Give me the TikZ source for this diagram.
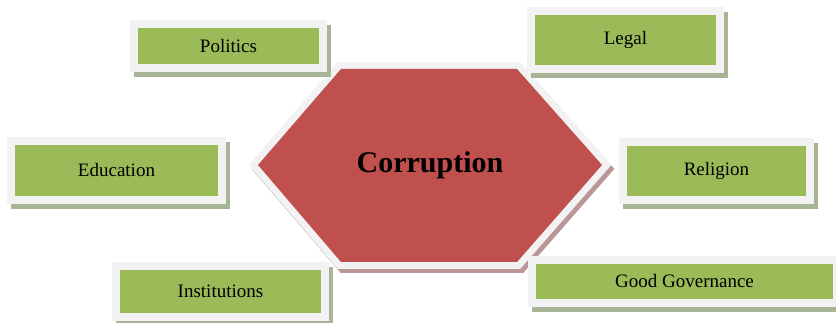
\documentclass[tikz,border=0pt]{standalone}
\usepackage{fontspec}
\setmainfont{Liberation Serif}
\usetikzlibrary{calc, positioning}
\definecolor{leafgreen}{RGB}{155,187,89}
\definecolor{brick}{RGB}{192,80,77}
\definecolor{paper}{RGB}{242,242,242}
\definecolor{greenshade}{RGB}{168,180,150}
\definecolor{redshade}{RGB}{186,150,150}
\tikzset{font=\fontsize{19}{22}\selectfont}

\begin{document}
\begin{tikzpicture}[x=1pt,y=1pt,
    topic/.style={fill=leafgreen,draw=paper,line width=8pt,inner sep=0pt,
        preaction={draw=greenshade,fill=greenshade,
                   transform canvas={shift={(4pt,-5pt)}}}}]
\useasboundingbox (0,0) rectangle (836,323);

% hexagon corners
\coordinate (w)  at (258,158);
\coordinate (nw) at (341,254);
\coordinate (ne) at (517,254);
\coordinate (e)  at (602,158);
\coordinate (se) at (517,61);
\coordinate (sw) at (341,61);

\path[fill=redshade,draw=redshade,line width=14pt,line join=miter,
      transform canvas={shift={(3pt,-4pt)}}]
    (w) -- (nw) -- (ne) -- (e) -- (se) -- (sw) -- cycle;
\path[fill=brick,draw=paper,line width=14pt,line join=miter]
    (w) -- (nw) -- (ne) -- (e) -- (se) -- (sw) -- cycle;
\path[fill=brick] (w) -- (nw) -- (ne) -- (e) -- (se) -- (sw) -- cycle;

\node[font=\fontsize{30}{36}\selectfont\bfseries] (corr) at (430,158) {Corruption};

\node[topic,minimum width=189,minimum height=44] (pol)
    at ([shift={(-201.5,119)}]corr.center) {Politics};
\node[topic,minimum width=189,minimum height=58] (leg)
    at ([shift={(195.5,125)}]corr.center) {Legal};
\node[topic,minimum width=211,minimum height=59] (edu)
    at ([shift={(-313.5,-5.5)}]corr.center) {Education};
\node[topic,minimum width=187,minimum height=58] (rel)
    at ([shift={(286.5,-6)}]corr.center) {Religion};
\node[topic,minimum width=209,minimum height=51] (inst)
    at ([shift={(-209.5,-126.5)}]corr.center) {Institutions};
\node[topic,minimum width=305,minimum height=43] (gov)
    at ([shift={(254.5,-116.5)}]corr.center) {Good Governance};

\end{tikzpicture}
\end{document}
